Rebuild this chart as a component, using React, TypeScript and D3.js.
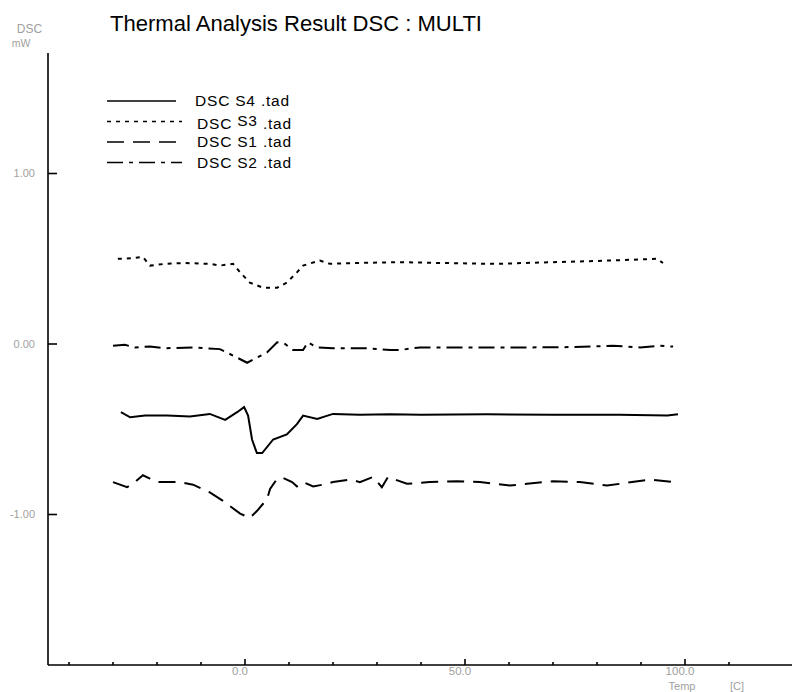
import React from 'react';
import * as d3 from 'd3';

// temperature [C] / DSC [mW] pairs
const s4Temp = [-28.2, -26.1, -22.7, -17.7, -12.5, -8.0, -4.5, -1.8, -0.2, 0.7, 1.6, 2.7, 3.9, 6.4, 9.5, 11.8, 13.2, 16.4, 20.0, 26.1, 33.0, 40.0, 55.0, 70.0, 85.0, 96.0, 98.4];
const s4Val = [-0.40, -0.43, -0.42, -0.42, -0.425, -0.41, -0.445, -0.40, -0.37, -0.42, -0.56, -0.64, -0.64, -0.56, -0.53, -0.47, -0.42, -0.44, -0.41, -0.415, -0.412, -0.415, -0.412, -0.415, -0.415, -0.42, -0.412];

const s3Temp = [-28.9, -27.3, -23.2, -21.6, -18.2, -13.6, -8.0, -5.7, -2.7, -1.1, 1.1, 4.1, 7.3, 9.5, 11.8, 13.2, 17.0, 19.3, 25.0, 35.0, 45.0, 57.0, 70.0, 83.6, 93.6, 95.0];
const s3Val = [0.50, 0.50, 0.51, 0.46, 0.47, 0.475, 0.47, 0.46, 0.47, 0.42, 0.36, 0.33, 0.33, 0.36, 0.42, 0.46, 0.49, 0.47, 0.475, 0.48, 0.475, 0.47, 0.48, 0.49, 0.50, 0.475];

const s1Temp = [-30.0, -26.8, -25.5, -23.2, -21.6, -20.0, -14.8, -11.8, -8.0, -5.0, -1.1, 1.1, 2.7, 5.0, 5.7, 7.3, 8.6, 10.7, 11.8, 13.2, 15.5, 17.7, 20.0, 23.9, 26.1, 29.1, 31.1, 32.5, 36.8, 42.0, 48.2, 53.4, 60.2, 64.1, 70.0, 76.1, 82.3, 85.2, 92.0, 97.3];
const s1Val = [-0.81, -0.84, -0.82, -0.77, -0.79, -0.81, -0.81, -0.825, -0.87, -0.92, -0.995, -1.02, -0.98, -0.91, -0.85, -0.79, -0.785, -0.81, -0.835, -0.81, -0.835, -0.825, -0.81, -0.795, -0.81, -0.78, -0.84, -0.78, -0.82, -0.81, -0.805, -0.81, -0.83, -0.82, -0.805, -0.81, -0.83, -0.82, -0.795, -0.81];

const s2Temp = [-30.0, -27.3, -25.0, -21.6, -18.2, -11.8, -5.7, -4.1, 0.5, 2.7, 5.0, 7.3, 9.1, 10.9, 13.2, 14.3, 16.4, 20.0, 27.7, 33.0, 35.2, 39.8, 50.0, 65.0, 75.0, 83.6, 89.8, 94.3, 97.3];
const s2Val = [-0.01, -0.005, -0.02, -0.015, -0.025, -0.02, -0.03, -0.05, -0.11, -0.08, -0.05, 0.01, 0.0, -0.035, -0.035, 0.01, -0.02, -0.025, -0.025, -0.035, -0.035, -0.02, -0.02, -0.02, -0.018, -0.01, -0.02, -0.01, -0.015];

const seriesNames = ['DSC S4 .tad', 'DSC S3 .tad', 'DSC S1 .tad', 'DSC S2 .tad'];
const seriesDash = ['', '4,5', '17,9', '16,6,4,6'];
const seriesTemp = [s4Temp, s3Temp, s1Temp, s2Temp];
const seriesVal = [s4Val, s3Val, s1Val, s2Val];

const yTicks = [1, 0, -1];
const xMajor = [0, 50, 100];
const xMinor = [-40, -30, -20, -10, 10, 20, 30, 40, 60, 70, 80, 90, 110];

const W = 792;
const H = 692;
const grey = '#a0a0a0';
const font = 'Arial, "Liberation Sans", sans-serif';

export default function App() {
    const x = d3.scaleLinear().domain([0, 100]).range([245, 685]);
    const y = d3.scaleLinear().domain([0, 1]).range([344, 173.5]);
    const left = 48;
    const top = 53;
    const bottom = 665;

    const line = d3.line<[number, number]>()
        .x(d => x(d[0]))
        .y(d => y(d[1]));

    return (
        <svg width={W} height={H} style={{position: 'absolute', left: 0, top: 0, background: '#fff'}}
             fontFamily={font}>
            <rect width={W} height={H} fill="#fff"/>
            <text x={110} y={31} fontSize={22} textLength={372} lengthAdjust="spacingAndGlyphs">
                Thermal Analysis Result DSC : MULTI
            </text>
            <text x={29.5} y={33} fontSize={12} fill={grey} textAnchor="middle">DSC</text>
            <text x={21} y={47} fontSize={10.5} fill={grey} textAnchor="middle">mW</text>

            {/* axes */}
            <line x1={left} x2={left} y1={top} y2={bottom} stroke="#000" strokeWidth={1.6}/>
            <line x1={left} x2={W} y1={bottom} y2={bottom} stroke="#000" strokeWidth={1.6}/>
            {yTicks.map(t => (
                <g key={t}>
                    <line x1={left} x2={left + 9} y1={y(t)} y2={y(t)} stroke="#000" strokeWidth={1.6}/>
                    <text x={35} y={y(t)} dy="0.35em" fontSize={11} fill={grey} textAnchor="end">
                        {d3.format('.2f')(t).replace('−', '-')}
                    </text>
                </g>
            ))}
            {xMajor.map(t => (
                <g key={t}>
                    <line x1={x(t)} x2={x(t)} y1={bottom} y2={bottom - 6} stroke="#000" strokeWidth={1.6}/>
                    <text x={x(t) - 5} y={675} fontSize={11.5} fill={grey} textAnchor="middle">
                        {d3.format('.1f')(t)}
                    </text>
                </g>
            ))}
            {xMinor.map(t => (
                <line key={t} x1={x(t)} x2={x(t)} y1={bottom} y2={bottom - 3} stroke="#000" strokeWidth={1.6}/>
            ))}
            <text x={682} y={690} fontSize={11} fill={grey} textAnchor="middle">Temp</text>
            <text x={737} y={690} fontSize={11} fill={grey} textAnchor="middle">[C]</text>

            {/* curves */}
            {seriesTemp.map((temps, i) => (
                <path key={seriesNames[i]}
                      d={line(temps.map((t, j) => [t, seriesVal[i][j]] as [number, number])) || ''}
                      fill="none" stroke="#000" strokeWidth={2}
                      strokeDasharray={seriesDash[i] || undefined}/>
            ))}

            {/* legend */}
            {seriesNames.map((name, i) => {
                const ly = 101 + i * 20.5;
                const [head, num, tail] = name.split(/(S\d)/);
                return (
                    <g key={name}>
                        <line x1={107} x2={176 + (i > 0 ? 6 : 0)} y1={ly} y2={ly} stroke="#000"
                              strokeWidth={1.6} strokeDasharray={seriesDash[i] || undefined}/>
                        <text x={195 + (i > 0 ? 2 : 0)} y={ly + 5 + (i === 1 ? 2 : 0)} fontSize={15.5} letterSpacing={0.8}>
                            {head}
                            <tspan dy={i === 1 ? -3 : 0}>{num}</tspan>
                            <tspan dy={i === 1 ? 3 : 0}>{tail}</tspan>
                        </text>
                    </g>
                );
            })}
        </svg>
    );
}
